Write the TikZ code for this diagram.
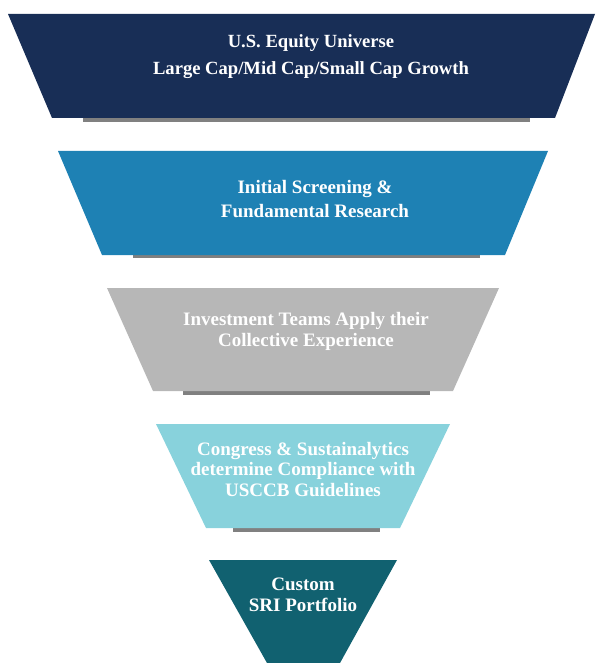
\documentclass[tikz,border=0pt]{standalone}
\usepackage{fontspec}
\setmainfont{Liberation Serif}
\definecolor{navy}{RGB}{24,46,86}
\definecolor{midblue}{RGB}{30,129,180}
\definecolor{lgray}{RGB}{183,183,183}
\definecolor{lcyan}{RGB}{136,210,220}
\definecolor{teal}{RGB}{17,97,112}
\definecolor{shadowgray}{RGB}{128,128,128}
\tikzset{
  lbl/.style={anchor=base, inner sep=0pt, text=white, font=\fontsize{19}{21}\selectfont\bfseries},
  shadowbar/.style={fill=shadowgray, draw=none},
}
\begin{document}
\begin{tikzpicture}[x=1pt,y=-1pt]
\useasboundingbox (0,0) rectangle (595,663);
% shadows
\fill[shadowgray] (83,117) rectangle (530,122);
\fill[shadowgray] (133,254) rectangle (480,258);
\fill[shadowgray] (183,390) rectangle (430,395);
\fill[shadowgray] (233,527) rectangle (380,532);
% funnel stages
\fill[navy] (8,14) -- (595,14) -- (555,118) -- (52,118) -- cycle;
\fill[midblue] (58,151) -- (548,151) -- (505,255) -- (102,255) -- cycle;
\fill[lgray] (107,288) -- (499,288) -- (453,391) -- (153,391) -- cycle;
\fill[lcyan] (156,424) -- (450,424) -- (400,528) -- (206,528) -- cycle;
\fill[teal] (209,560) -- (397,560) -- (340,663) -- (267,663) -- cycle;
% labels
\node[lbl, font=\fontsize{18.6}{21}\selectfont\bfseries] (t1a) at (311,48) {U.S. Equity Universe};
\node[lbl, font=\fontsize{18.6}{21}\selectfont\bfseries] (t1b) at (311,75) {Large Cap/Mid Cap/Small Cap Growth};
\node[lbl] (t2a) at (315,193.5) {Initial Screening \&};
\node[lbl] (t2b) at (315,217.5) {Fundamental Research};
\node[lbl] (t3a) at (306,325) {Investment Teams Apply their};
\node[lbl] (t3b) at (306,346) {Collective Experience};
\node[lbl] (t4a) at (303,455) {Congress \& Sustainalytics};
\node[lbl] (t4b) at (303,475.8) {determine Compliance with};
\node[lbl] (t4c) at (303,496.6) {USCCB Guidelines};
\node[lbl] (t5a) at (303,590) {Custom};
\node[lbl] (t5b) at (303,611.7) {SRI Portfolio};
\end{tikzpicture}
\end{document}
